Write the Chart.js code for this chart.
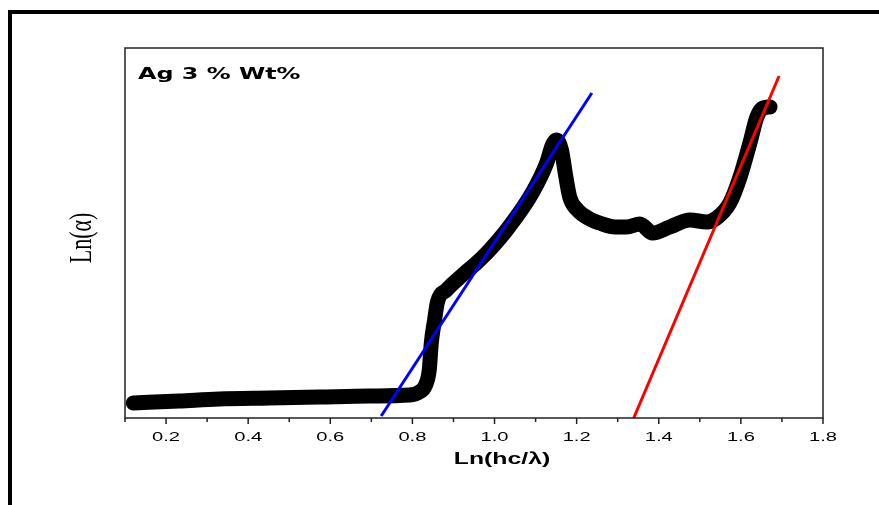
<!DOCTYPE html>
<html>
<head>
<meta charset="utf-8">
<script src="https://cdn.jsdelivr.net/npm/chart.js@4.4.0/dist/chart.umd.min.js"></script>
<style>
  body { margin: 0; background: #fff; }
  canvas { display: block; }
</style>
</head>
<body>
<canvas id="absChart" width="879" height="505"></canvas>
<script>
// Ln(hc/lambda) vs Ln(alpha)
const xVals = [0.120, 0.232, 0.329, 0.451, 0.573, 0.695, 0.793, 0.817, 0.832, 0.841,
  0.846, 0.854, 0.861, 0.883, 0.922, 0.956, 0.988, 1.037, 1.093, 1.127,
  1.141, 1.151, 1.163, 1.173, 1.183, 1.202, 1.232, 1.256, 1.293, 1.322,
  1.354, 1.385, 1.427, 1.476, 1.517, 1.541, 1.573, 1.598, 1.622, 1.639,
  1.654, 1.671];
const lnAlpha = [0.15, 0.17, 0.19, 0.20, 0.21, 0.22, 0.23, 0.26, 0.33, 0.48,
  0.75, 0.98, 1.16, 1.28, 1.43, 1.55, 1.68, 1.92, 2.26, 2.55,
  2.73, 2.78, 2.68, 2.43, 2.21, 2.08, 1.99, 1.95, 1.91, 1.91,
  1.94, 1.85, 1.91, 1.98, 1.96, 2.00, 2.15, 2.41, 2.75, 3.01,
  3.10, 3.11];

// linear fits
const blueFitX = [0.724, 1.237];
const blueFitY = [0.02, 3.25];
const redFitX = [1.339, 1.693];
const redFitY = [0.0, 3.42];

const tickLabels = ["0.2", "0.4", "0.6", "0.8", "1.0", "1.2", "1.4", "1.6", "1.8"];
const minorTicks = [0.1, 0.3, 0.5, 0.7, 0.9, 1.1, 1.3, 1.5, 1.7];

const toPoints = (xs, ys) => xs.map((x, i) => ({ x: x, y: ys[i] }));

// text drawn a bit wider, like the original export
function wideText(ctx, text, x, y, font, sx, align) {
  ctx.save();
  ctx.font = font;
  ctx.fillStyle = "#000";
  ctx.textBaseline = "middle";
  ctx.textAlign = align || "center";
  ctx.translate(x, y);
  ctx.scale(sx, 1);
  ctx.fillText(text, 0, 0);
  ctx.restore();
}

const decor = {
  id: "decor",
  afterDraw(chart) {
    const ctx = chart.ctx;
    const a = chart.chartArea;
    const xs = chart.scales.x;

    // outer frame
    ctx.fillStyle = "#000";
    ctx.fillRect(8, 10, 4, 495);
    ctx.fillRect(8, 10, 871, 4);

    // plot box
    ctx.save();
    ctx.strokeStyle = "#222";
    ctx.lineWidth = 1.5;
    ctx.strokeRect(a.left, a.top, a.right - a.left, a.bottom - a.top);

    // ticks
    ctx.beginPath();
    tickLabels.forEach((t) => {
      const px = xs.getPixelForValue(parseFloat(t));
      ctx.moveTo(px, a.bottom);
      ctx.lineTo(px, a.bottom + 6);
    });
    minorTicks.forEach((v) => {
      const px = xs.getPixelForValue(v);
      ctx.moveTo(px, a.bottom);
      ctx.lineTo(px, a.bottom + 4);
    });
    ctx.stroke();
    ctx.restore();

    tickLabels.forEach((t) => {
      const px = xs.getPixelForValue(parseFloat(t));
      wideText(ctx, t, px, a.bottom + 19, "13px 'Liberation Sans', Arial", 1.55);
    });

    wideText(ctx, "Ln(hc/\u03bb)", (a.left + a.right) / 2 + 28, 460,
      "bold 16px 'Liberation Sans', Arial", 1.55);

    wideText(ctx, "Ag 3 % Wt%", 138, 75, "bold 16px 'DejaVu Sans'", 1.49, "left");

    // y title
    ctx.save();
    ctx.font = "22px 'Liberation Serif', 'Times New Roman'";
    ctx.fillStyle = "#000";
    ctx.textAlign = "center";
    ctx.textBaseline = "middle";
    ctx.translate(83, 238);
    ctx.scale(1.45, 1);
    ctx.rotate(-Math.PI / 2);
    ctx.fillText("Ln(\u03b1)", 0, 0);
    ctx.restore();
  },
};

const ctx = document.getElementById("absChart").getContext("2d");
new Chart(ctx, {
  type: "scatter",
  data: {
    datasets: [
      {
        label: "Ag 3 % Wt%",
        data: toPoints(xVals, lnAlpha),
        showLine: true,
        borderColor: "#000",
        backgroundColor: "#000",
        borderWidth: 15,
        borderCapStyle: "round",
        borderJoinStyle: "round",
        cubicInterpolationMode: "monotone",
        pointRadius: 0,
        order: 3,
      },
      {
        label: "fit 1",
        data: toPoints(blueFitX, blueFitY),
        showLine: true,
        borderColor: "#0000ff",
        borderWidth: 3,
        pointRadius: 0,
        order: 1,
      },
      {
        label: "fit 2",
        data: toPoints(redFitX, redFitY),
        showLine: true,
        borderColor: "#ff0000",
        borderWidth: 3,
        pointRadius: 0,
        order: 1,
      },
    ],
  },
  options: {
    responsive: false,
    animation: false,
    layout: {
      padding: { top: 48, right: 56, left: 0, bottom: 0 },
    },
    plugins: {
      legend: { display: false },
      tooltip: { enabled: false },
    },
    scales: {
      x: {
        type: "linear",
        min: 0.1,
        max: 1.8,
        grid: { display: false },
        border: { display: false },
        ticks: { display: false },
        afterFit: (s) => {
          s.height = 87;
        },
      },
      y: {
        min: 0,
        max: 3.7,
        grid: { display: false },
        border: { display: false },
        ticks: { display: false },
        afterFit: (s) => {
          s.width = 125;
        },
      },
    },
  },
  plugins: [decor],
});
</script>
</body>
</html>
